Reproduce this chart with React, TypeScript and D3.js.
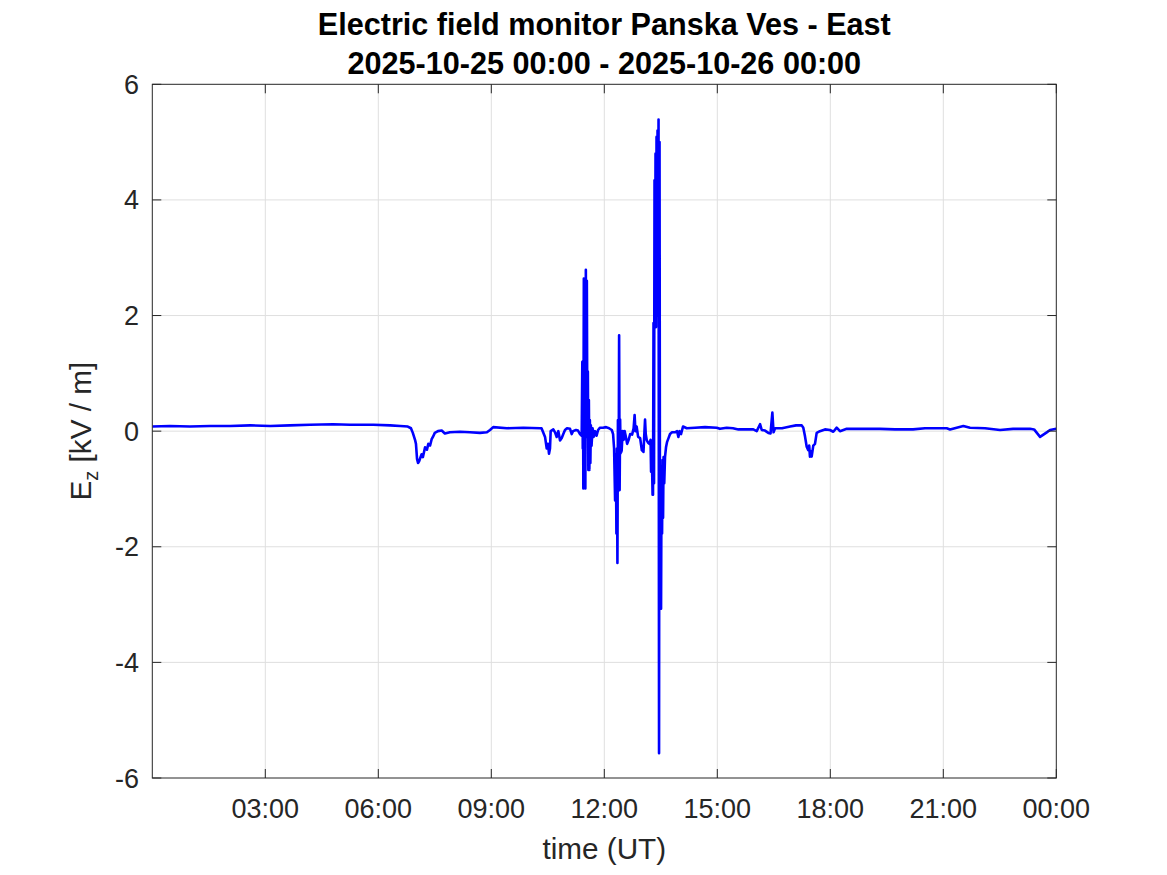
import React from "react";
import * as d3 from "d3";

// time in minutes since 2025-10-25 00:00 UT
const timeMin: number[] = [
  0, 28, 60, 92, 124, 156, 188, 219, 251, 288, 315, 352, 379, 395, 407, 412, 415, 418.5, 420, 421.7,
  423.3, 425, 429, 431, 434.5, 437.5, 439.7, 442.4, 445, 447, 450, 455, 461, 466, 474, 490, 506, 522,
  533, 538, 543, 565, 591, 618, 620, 625.6, 628.3, 630.3, 631.9, 633.5, 634.6, 638.8, 641.5, 644.2,
  646.8, 649.5, 652.2, 654.7, 657.4, 660.6, 665.4, 668.1, 670.2, 674.9, 678.1, 681.3, 684,
  685, 685.7, 686.1, 686.6, 687.4, 688.2, 689, 689.8, 690.6, 691.4, 692.2, 693, 693.8, 694.6, 695.4,
  696.2, 697, 697.8, 698.6, 699.7, 701.3, 702.9, 705.3, 707.7, 710.1, 713.2, 718, 722.8, 727.6, 731.9,
  734, 735.6, 737.2, 738.5, 739.3, 740.1, 740.9, 741.7, 742.8, 743.6, 744.4, 745.2, 746, 746.8, 747.6,
  749.2, 750.8, 752.4, 754, 756.4, 758.8, 761.2, 764.3, 766.7, 768.3, 769.6, 771.5, 773.9, 777.1,
  779.8, 782.4, 784, 784.9, 786, 787.7, 789.7, 792.1, 793.7, 794.5, 795.6, 796.9, 797.6, 798.4, 799.2,
  800, 800.8, 801.6, 802.4, 803.2, 804, 804.8, 805.6, 806.4, 807.2, 808, 808.8, 809.6, 810.4, 811.2,
  812, 812.8, 813.6, 814.4, 815.5, 816.7, 818.3, 819.9, 822.3, 824.7, 827.9, 832.7, 835.9, 838, 839.9,
  842.2, 845.4, 851.3, 864.5, 880.4, 899, 904.3, 915, 925, 933.6, 946.9, 957.4, 962.8, 968.1, 970.8,
  976, 981.3, 984.8, 987.7, 989.6, 992, 1003.1, 1015.9, 1025.4, 1034.5, 1037, 1039.7, 1042.4, 1044.9,
  1046.4, 1047.6, 1049.2, 1050.3, 1052.9, 1055.6, 1058.3, 1063.5, 1071.5, 1079.4, 1084.8, 1090.2,
  1095.4, 1106.2, 1127.4, 1159.2, 1183.1, 1211.8, 1230.9, 1265.5, 1270.7, 1291.9, 1302.6, 1326.5,
  1350.4, 1371.1, 1398.2, 1404.6, 1414.1, 1424.8, 1430, 1440,
];

// vertical electric field Ez [kV/m]
const ezValues: number[] = [
  0.08, 0.09, 0.08, 0.09, 0.09, 0.1, 0.09, 0.1, 0.11, 0.12, 0.11, 0.11, 0.1, 0.09, 0.08, 0.05, -0.03, -0.15, -0.22, -0.48,
  -0.55, -0.52, -0.4, -0.45, -0.28, -0.32, -0.22, -0.25, -0.14, -0.1, -0.03, 0.0, 0.01, -0.04, -0.02, -0.01, -0.02, -0.03,
  -0.02, 0.02, 0.07, 0.05, 0.06, 0.05, 0.05, -0.1, -0.3, -0.22, -0.39, -0.3, 0.0, 0.03, -0.02, -0.1,
  0.0, -0.16, -0.12, -0.05, 0.02, 0.05, 0.04, -0.05, 0.0, 0.02, 0.01, -0.05, -0.08,
  1.2, -0.3, 1.2, -0.99, 2.64, 0.2, 2.5, -0.99, 2.79, 0.3, 2.6, -0.1, 1.03, -0.67, 0.54,
  -0.67, 0.19, -0.55, 0.1, -0.25, 0.05, -0.1, 0.0, -0.08, 0.02, 0.06, 0.06, 0.07, 0.05, 0.02,
  -0.05, -0.3, -1.2, -0.4, -1.77, -0.3, -2.28, 0.19, -1.0, 1.66, -1.02, 0.2, -0.38, -0.15, -0.35,
  0.0, -0.15, 0.0, -0.08, -0.22, -0.15, -0.05, -0.06, 0.05, 0.28, 0.0, 0.08, -0.1, -0.12,
  -0.33, -0.36, 0.0, 0.2, -0.05, -0.16, -0.2, -0.22, -0.15, -0.7, -0.3, -1.1, -1.1, 1.87, -0.9,
  4.34, 1.8, 4.8, 1.8, 5.09, 2.0, 5.2, 3.0, 5.39, -5.57, 5.0, -3.0, -0.8, -3.07, -0.6,
  -1.77, -0.5, -1.5, -0.45, -0.9, -0.45, -0.28, -0.19, -0.12, -0.05, -0.02, -0.02, 0.0, -0.1, 0.0,
  -0.05, 0.08, 0.05, 0.06, 0.07, 0.06, 0.04, 0.06, 0.05, 0.03, 0.03, 0.03, 0.0, 0.12, 0.02,
  0.01, -0.03, -0.04, 0.32, -0.02, 0.05, 0.05, 0.08, 0.1, 0.1, 0.06, -0.09, -0.27, -0.33,
  -0.25, -0.44, -0.35, -0.44, -0.25, -0.22, -0.03, 0.0, 0.03, 0.02, -0.01, 0.06,
  0.0, 0.04, 0.04, 0.04, 0.03, 0.03, 0.05, 0.05, 0.03, 0.09, 0.06, 0.05,
  0.02, 0.04, 0.04, 0.03, -0.1, -0.02, 0.02, 0.04,
];

const xTickMinutes: number[] = [180, 360, 540, 720, 900, 1080, 1260, 1440];
const xTickLabels: string[] = ["03:00", "06:00", "09:00", "12:00", "15:00", "18:00", "21:00", "00:00"];
const yTickValues: number[] = [-6, -4, -2, 0, 2, 4, 6];

const titleLines: string[] = ["Electric field monitor Panska Ves - East", "2025-10-25 00:00 - 2025-10-26 00:00"];

export default function App() {
  const W = 1167;
  const H = 875;
  const left = 152.3;
  const right = 1056.3;
  const top = 84.3;
  const bottom = 778;

  const x = d3.scaleLinear().domain([0, 1440]).range([left, right]);
  const y = d3.scaleLinear().domain([-6, 6]).range([bottom, top]);

  const pts: [number, number][] = timeMin.map((t, i) => [t, ezValues[i]]);
  const line = d3
    .line<[number, number]>()
    .x((d) => x(d[0]))
    .y((d) => y(d[1]));

  const axisColor = "#262626";
  const gridColor = "#dfdfdf";
  const font = "'Liberation Sans', Arial, Helvetica, sans-serif";
  const tickLen = 9;

  return (
    <div style={{ position: "absolute", left: 0, top: 0 }}>
      <svg width={W} height={H} style={{ display: "block", background: "#fff" }}>
        <rect x={0} y={0} width={W} height={H} fill="#ffffff" />
        {/* grid */}
        {xTickMinutes.slice(0, -1).map((t) => (
          <line key={"gx" + t} x1={x(t)} x2={x(t)} y1={top} y2={bottom} stroke={gridColor} strokeWidth={1} />
        ))}
        {yTickValues.slice(1, -1).map((v) => (
          <line key={"gy" + v} x1={left} x2={right} y1={y(v)} y2={y(v)} stroke={gridColor} strokeWidth={1} />
        ))}
        <defs>
          <clipPath id="plotclip">
            <rect x={left} y={top} width={right - left} height={bottom - top} />
          </clipPath>
        </defs>
        <path
          d={line(pts) || ""}
          fill="none"
          stroke="#0000ff"
          strokeWidth={2.6}
          strokeLinejoin="round"
          clipPath="url(#plotclip)"
        />
        {/* box */}
        <rect x={left} y={top} width={right - left} height={bottom - top} fill="none" stroke={axisColor} strokeWidth={1} />
        {/* x ticks */}
        {xTickMinutes.map((t, i) => (
          <g key={"xt" + t}>
            <line x1={x(t)} x2={x(t)} y1={bottom} y2={bottom - tickLen} stroke={axisColor} strokeWidth={1} />
            <line x1={x(t)} x2={x(t)} y1={top} y2={top + tickLen} stroke={axisColor} strokeWidth={1} />
            <text x={x(t)} y={818} textAnchor="middle" fontFamily={font} fontSize={27} fill={axisColor}>
              {xTickLabels[i]}
            </text>
          </g>
        ))}
        {/* y ticks */}
        {yTickValues.map((v) => (
          <g key={"yt" + v}>
            <line x1={left} x2={left + tickLen} y1={y(v)} y2={y(v)} stroke={axisColor} strokeWidth={1} />
            <line x1={right} x2={right - tickLen} y1={y(v)} y2={y(v)} stroke={axisColor} strokeWidth={1} />
            <text x={139} y={y(v) + 9.5} textAnchor="end" fontFamily={font} fontSize={27} fill={axisColor}>
              {String(v)}
            </text>
          </g>
        ))}
        {/* labels */}
        <text x={(left + right) / 2} y={859} textAnchor="middle" fontFamily={font} fontSize={29.7} fill={axisColor}>
          time (UT)
        </text>
        <text
          transform={`translate(91, ${(top + bottom) / 2}) rotate(-90)`}
          textAnchor="middle"
          fontFamily={font}
          fontSize={29.7}
          fill={axisColor}
        >
          E<tspan fontSize={20} dy={7}>z</tspan>
          <tspan dy={-7}> [kV / m]</tspan>
        </text>
        {/* title */}
        <text x={(left + right) / 2} y={35} textAnchor="middle" fontFamily={font} fontSize={30.6} fontWeight="bold" fill="#000">
          {titleLines[0]}
        </text>
        <text x={(left + right) / 2} y={74} textAnchor="middle" fontFamily={font} fontSize={30.6} fontWeight="bold" fill="#000">
          {titleLines[1]}
        </text>
      </svg>
    </div>
  );
}
